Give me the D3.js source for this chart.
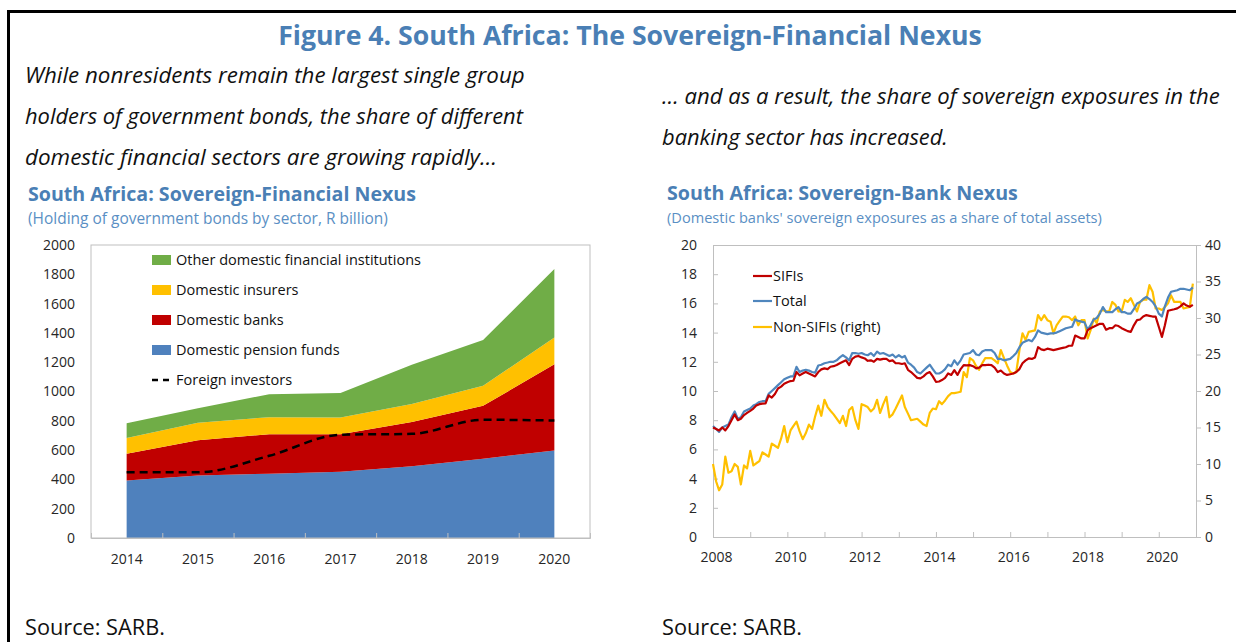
<!DOCTYPE html>
<html><head><meta charset="utf-8">
<script src="https://cdn.jsdelivr.net/npm/d3@7"></script>
<style>
body{margin:0;background:#fff;}
svg{display:block;font-family:"Open Sans",sans-serif;}
</style>
</head><body>
<svg id="c" width="1236" height="642"></svg>
<script>
// ---------- Left chart data (R billion) ----------
const years = ["2014","2015","2016","2017","2018","2019","2020"];
const pensionFunds = [393, 427, 439, 452, 489, 541, 598];
const banks        = [182, 241, 270, 257, 302, 361, 588];
const insurers     = [107, 118, 116, 114, 123, 137, 182];
const otherFin     = [102, 100, 157, 166, 268, 313, 468];
const foreign      = [448, 448, 561, 705, 711, 807, 802];
const leftTicks    = [0,200,400,600,800,1000,1200,1400,1600,1800,2000];

// ---------- Right chart data (monthly, Jan 2008 - Dec 2020) ----------
const startMonth = "2008-01";
const sifis = [
 7.5,7.4,7.3,7.5,7.3,7.6,8.0,8.4,8.0,8.1,8.35,8.5,
 8.64,8.8,9.0,9.1,9.14,9.15,9.7,9.55,9.8,10.17,10.3,10.5,
 10.6,10.68,10.7,11.3,11.07,11.2,11.3,11.2,11.1,11.0,11.3,11.48,
 11.55,11.5,11.66,11.7,11.78,11.9,12.0,12.1,11.78,12.2,12.35,12.4,
 12.3,12.23,12.07,12.1,12.0,12.2,12.15,12.2,12.2,12.05,12.1,11.9,
 11.9,11.85,11.9,11.45,11.3,11.1,10.9,10.86,11.0,11.2,11.3,11.0,
 10.63,10.65,10.75,10.9,11.2,11.1,11.43,11.1,11.5,11.77,11.75,11.77,
 11.7,11.55,11.6,11.77,11.77,11.8,11.77,11.6,11.3,11.4,11.2,11.1,
 11.15,11.2,11.3,11.5,11.9,12.1,12.23,12.2,12.3,13.0,12.85,12.8,
 12.9,12.85,12.8,12.85,12.9,12.95,13.0,13.1,13.1,13.8,13.7,13.6,
 13.6,14.17,14.3,14.4,14.5,14.6,14.6,14.2,14.3,14.3,14.5,14.45,
 14.3,14.2,14.1,14.05,14.5,14.85,14.9,15.1,15.2,15.15,15.1,15.09,
 14.4,13.7,14.5,15.5,15.55,15.6,15.66,15.8,16.0,15.85,15.77,15.9
];
const total = [
 7.6,7.4,7.2,7.5,7.6,7.7,8.2,8.6,8.1,8.2,8.6,8.7,
 8.8,9.0,9.1,9.25,9.3,9.3,9.8,10.0,10.2,10.4,10.6,10.8,
 10.9,11.0,11.0,11.65,11.3,11.4,11.45,11.4,11.3,11.25,11.75,11.8,
 11.9,11.95,12.0,12.0,12.1,12.3,12.45,12.3,12.1,12.6,12.6,12.55,
 12.6,12.5,12.45,12.6,12.4,12.7,12.55,12.6,12.5,12.4,12.5,12.3,
 12.45,12.3,12.4,11.95,11.8,11.6,11.3,11.2,11.4,11.6,11.8,11.5,
 11.2,11.2,11.3,11.5,11.8,11.7,12.1,11.8,12.1,12.5,12.55,12.6,
 12.8,12.5,12.45,12.7,12.8,12.8,12.8,12.6,12.2,12.2,12.1,12.15,
 12.2,12.4,12.6,13.0,13.3,13.4,13.5,13.4,13.7,14.15,14.0,13.95,
 13.9,13.95,13.95,14.0,14.1,14.2,14.3,14.35,14.4,14.9,14.8,14.75,
 14.7,14.2,14.5,14.9,15.0,15.3,15.75,15.4,15.4,15.4,15.6,15.75,
 15.4,15.4,15.3,15.3,15.6,16.0,16.1,16.3,16.45,16.3,16.1,15.8,
 15.3,15.1,15.8,16.4,16.8,16.85,16.9,17.0,17.0,16.95,16.9,17.1
];
const nonSifis = [
 10.0,7.6,6.4,7.2,11.0,8.8,9.0,10.0,9.6,7.2,9.8,9.4,
 11.8,9.8,10.1,10.4,11.6,11.3,11.0,12.8,12.5,12.2,13.5,15.2,
 13.0,14.6,15.2,15.8,14.5,13.4,14.2,15.4,14.8,16.5,18.0,16.6,
 18.8,17.8,17.3,16.8,16.2,15.6,16.6,15.2,17.4,17.8,16.0,14.8,
 18.2,18.0,17.8,17.2,17.6,18.8,17.0,18.2,19.2,16.4,16.8,17.6,
 18.5,19.4,17.8,16.9,16.0,16.1,16.2,15.8,15.4,15.2,17.0,17.6,
 17.5,18.6,18.2,18.7,19.3,19.7,19.7,19.8,19.9,22.6,21.9,24.5,
 24.2,23.4,22.9,23.8,24.5,24.5,24.5,24.2,23.8,25.6,24.5,23.5,
 22.6,22.4,22.6,25.6,27.9,27.0,28.1,28.2,28.3,30.4,29.7,30.4,
 29.7,29.5,27.9,29.0,29.6,30.2,30.2,30.1,29.7,30.2,29.0,29.7,
 29.7,27.2,28.3,29.9,29.3,30.9,31.1,30.9,30.9,32.2,31.8,30.9,
 30.9,32.5,32.2,32.7,31.8,30.9,32.2,32.5,32.5,34.5,33.6,31.3,
 31.3,31.1,31.5,32.0,33.1,32.2,32.2,32.2,31.3,31.4,31.5,34.7
];
const rightLeftTicks  = [0,2,4,6,8,10,12,14,16,18,20];
const rightRightTicks = [0,5,10,15,20,25,30,35,40];

// ---------- styles ----------
const C = {
  title:"#4a7fb5", sub:"#5a8fc4", axis:"#bfbfbf", label:"#262626",
  green:"#70ad47", yellow:"#ffc000", red:"#c00000", blue:"#4f81bd", line_blue:"#4f86bd"
};
const svg = d3.select("#c");

function fit(sel, w){
  const l = sel.node().getComputedTextLength();
  const fs = parseFloat(sel.attr("font-size"));
  sel.attr("font-size", (fs*w/l).toFixed(2));
  return sel;
}

// outer frame
svg.append("rect").attr("x",8.5).attr("y",11.5).attr("width",1300).attr("height",700)
  .attr("fill","none").attr("stroke","#000").attr("stroke-width",3);

// Main title
fit(svg.append("text").attr("x",630).attr("y",45).attr("text-anchor","middle")
  .attr("font-size",24).attr("font-weight","bold").attr("fill",C.title)
  .text("Figure 4. South Africa: The Sovereign-Financial Nexus"), 704);

// Narrative lines
const leftLines = [
  ["While nonresidents remain the largest single group", 83, 500],
  ["holders of government bonds, the share of different", 124, 498],
  ["domestic financial sectors are growing rapidly\u2026", 165, 472]
];
leftLines.forEach(([t,y,w]) => fit(svg.append("text").attr("x",25).attr("y",y)
  .attr("font-size",21).attr("font-style","italic").attr("fill","#111").text(t), w));
const rightLines = [
  ["\u2026 and as a result, the share of sovereign exposures in the", 104, 558],
  ["banking sector has increased.", 145, 286]
];
rightLines.forEach(([t,y,w]) => fit(svg.append("text").attr("x",662).attr("y",y)
  .attr("font-size",21).attr("font-style","italic").attr("fill","#111").text(t), w));

// chart titles
fit(svg.append("text").attr("x",28).attr("y",201).attr("font-size",19).attr("font-weight","bold")
  .attr("fill",C.title).text("South Africa: Sovereign-Financial Nexus"), 388);
fit(svg.append("text").attr("x",28).attr("y",224).attr("font-size",14)
  .attr("fill",C.sub).text("(Holding of government bonds by sector, R billion)"), 360);
fit(svg.append("text").attr("x",667).attr("y",200).attr("font-size",19).attr("font-weight","bold")
  .attr("fill",C.title).text("South Africa: Sovereign-Bank Nexus"), 351);
fit(svg.append("text").attr("x",667).attr("y",223).attr("font-size",14)
  .attr("fill",C.sub).text("(Domestic banks' sovereign exposures as a share of total assets)"), 435);

// Sources
fit(svg.append("text").attr("x",25).attr("y",635).attr("font-size",21).attr("fill","#111").text("Source: SARB."), 140);
fit(svg.append("text").attr("x",662).attr("y",635).attr("font-size",21).attr("fill","#111").text("Source: SARB."), 140);

// ================= LEFT CHART =================
const L = {x0:91, x1:590, y0:245, y1:538};
const xb = d3.scaleBand().domain(years).range([L.x0, L.x1]);
const xc = d => xb(d) + xb.bandwidth()/2;
const yS = d3.scaleLinear().domain([0,2000]).range([L.y1, L.y0]);

const rows = years.map((y,i)=>({year:y, pension:pensionFunds[i], banks:banks[i], insurers:insurers[i], other:otherFin[i]}));
const keys = ["pension","banks","insurers","other"];
const colors = {pension:C.blue, banks:C.red, insurers:C.yellow, other:C.green};
const stack = d3.stack().keys(keys)(rows);
const area = d3.area().x(d=>xc(d.data.year)).y0(d=>yS(d[0])).y1(d=>yS(d[1]));
svg.append("g").selectAll("path").data(stack).join("path")
  .attr("d", area).attr("fill", d=>colors[d.key]);

const fline = d3.line().x((d,i)=>xc(years[i])).y(d=>yS(d)).curve(d3.curveMonotoneX);
svg.append("path").attr("d", fline(foreign)).attr("fill","none").attr("stroke","#000")
  .attr("stroke-width",2.5).attr("stroke-dasharray","8,5");

// frame
svg.append("rect").attr("x",L.x0).attr("y",L.y0).attr("width",L.x1-L.x0).attr("height",L.y1-L.y0)
  .attr("fill","none").attr("stroke",C.axis).attr("stroke-width",1);

// y axis
const gyl = svg.append("g").attr("transform",`translate(${L.x0},0)`)
  .call(d3.axisLeft(yS).tickValues(leftTicks).tickFormat(d3.format("d")).tickSize(0).tickPadding(16));
gyl.select(".domain").remove();
gyl.selectAll("text").attr("font-size",14).attr("fill",C.label).attr("font-family","Open Sans");

// x axis labels
const gxl = svg.append("g").attr("transform",`translate(0,${L.y1})`)
  .call(d3.axisBottom(xb).tickSize(0).tickPadding(16));
gxl.select(".domain").remove();
gxl.selectAll("text").attr("font-size",14).attr("fill",C.label).attr("font-family","Open Sans");
// boundary ticks
const xbound = d3.scaleLinear().domain([0, years.length]).range([L.x0, L.x1]);
const gxt = svg.append("g").attr("transform",`translate(0,${L.y1})`)
  .call(d3.axisBottom(xbound).tickValues(d3.range(1, years.length)).tickSize(-5).tickFormat(""));
gxt.select(".domain").attr("stroke",C.axis);
gxt.selectAll("line").attr("stroke",C.axis);

// legend
const legItems = [
  ["Other domestic financial institutions", C.green, 260],
  ["Domestic insurers", C.yellow, 290],
  ["Domestic banks", C.red, 320],
  ["Domestic pension funds", C.blue, 350]
];
legItems.forEach(([t,c,y])=>{
  svg.append("rect").attr("x",152).attr("y",y-5).attr("width",19).attr("height",10).attr("fill",c);
  svg.append("text").attr("x",176).attr("y",y+5).attr("font-size",14.5).attr("fill","#111").text(t);
});
svg.append("line").attr("x1",152).attr("x2",172).attr("y1",380).attr("y2",380)
  .attr("stroke","#000").attr("stroke-width",2.5).attr("stroke-dasharray","6,5");
svg.append("text").attr("x",176).attr("y",385).attr("font-size",14.5).attr("fill","#111").text("Foreign investors");

// ================= RIGHT CHART =================
const R = {x0:713, x1:1196, y0:245, y1:537};
const parse = d3.timeParse("%Y-%m");
const dates = d3.range(sifis.length).map(i => d3.timeMonth.offset(parse(startMonth), i));
const xt = d3.scaleTime().domain([parse("2008-01"), parse("2021-01")]).range([R.x0, R.x1]);
const yL = d3.scaleLinear().domain([0,20]).range([R.y1, R.y0]);
const yR = d3.scaleLinear().domain([0,40]).range([R.y1, R.y0]);

// top frame line
svg.append("line").attr("x1",R.x0).attr("x2",R.x1).attr("y1",R.y0+0.5).attr("y2",R.y0+0.5)
  .attr("stroke",C.axis);

const g1 = svg.append("g").attr("transform",`translate(${R.x0},0)`)
  .call(d3.axisLeft(yL).tickValues(rightLeftTicks).tickSize(-5).tickSizeOuter(0).tickPadding(16));
const g2 = svg.append("g").attr("transform",`translate(${R.x1},0)`)
  .call(d3.axisRight(yR).tickValues(rightRightTicks).tickSize(5).tickSizeOuter(0).tickPadding(4));
const g3 = svg.append("g").attr("transform",`translate(0,${R.y1})`)
  .call(d3.axisBottom(xt).ticks(d3.timeYear.every(1)).tickSize(-5).tickSizeOuter(0).tickPadding(15)
    .tickFormat(d => d.getFullYear()%2===0 ? d3.timeFormat("%Y")(d) : ""));
[g1,g2,g3].forEach(g=>{
  g.select(".domain").attr("stroke",C.axis);
  g.selectAll("line").attr("stroke",C.axis);
  g.selectAll("text").attr("font-size",14).attr("fill",C.label).attr("font-family","Open Sans");
});
g3.selectAll("text").attr("dx",3);

const lineL = d3.line().x((d,i)=>xt(dates[i])).y(d=>yL(d));
const lineR = d3.line().x((d,i)=>xt(dates[i])).y(d=>yR(d));
svg.append("path").attr("d",lineR(nonSifis)).attr("fill","none").attr("stroke",C.yellow).attr("stroke-width",2.2).attr("stroke-linejoin","round");
svg.append("path").attr("d",lineL(total)).attr("fill","none").attr("stroke",C.line_blue).attr("stroke-width",2.2).attr("stroke-linejoin","round");
svg.append("path").attr("d",lineL(sifis)).attr("fill","none").attr("stroke",C.red).attr("stroke-width",2.2).attr("stroke-linejoin","round");

// right legend
const rLeg = [["SIFIs", C.red, 276],["Total", C.line_blue, 301],["Non-SIFIs (right)", C.yellow, 327]];
rLeg.forEach(([t,c,y])=>{
  svg.append("line").attr("x1",753).attr("x2",772).attr("y1",y).attr("y2",y).attr("stroke",c).attr("stroke-width",2.2);
  svg.append("text").attr("x",773).attr("y",y+5).attr("font-size",14.5).attr("fill","#111").text(t);
});
</script>
</body></html>
